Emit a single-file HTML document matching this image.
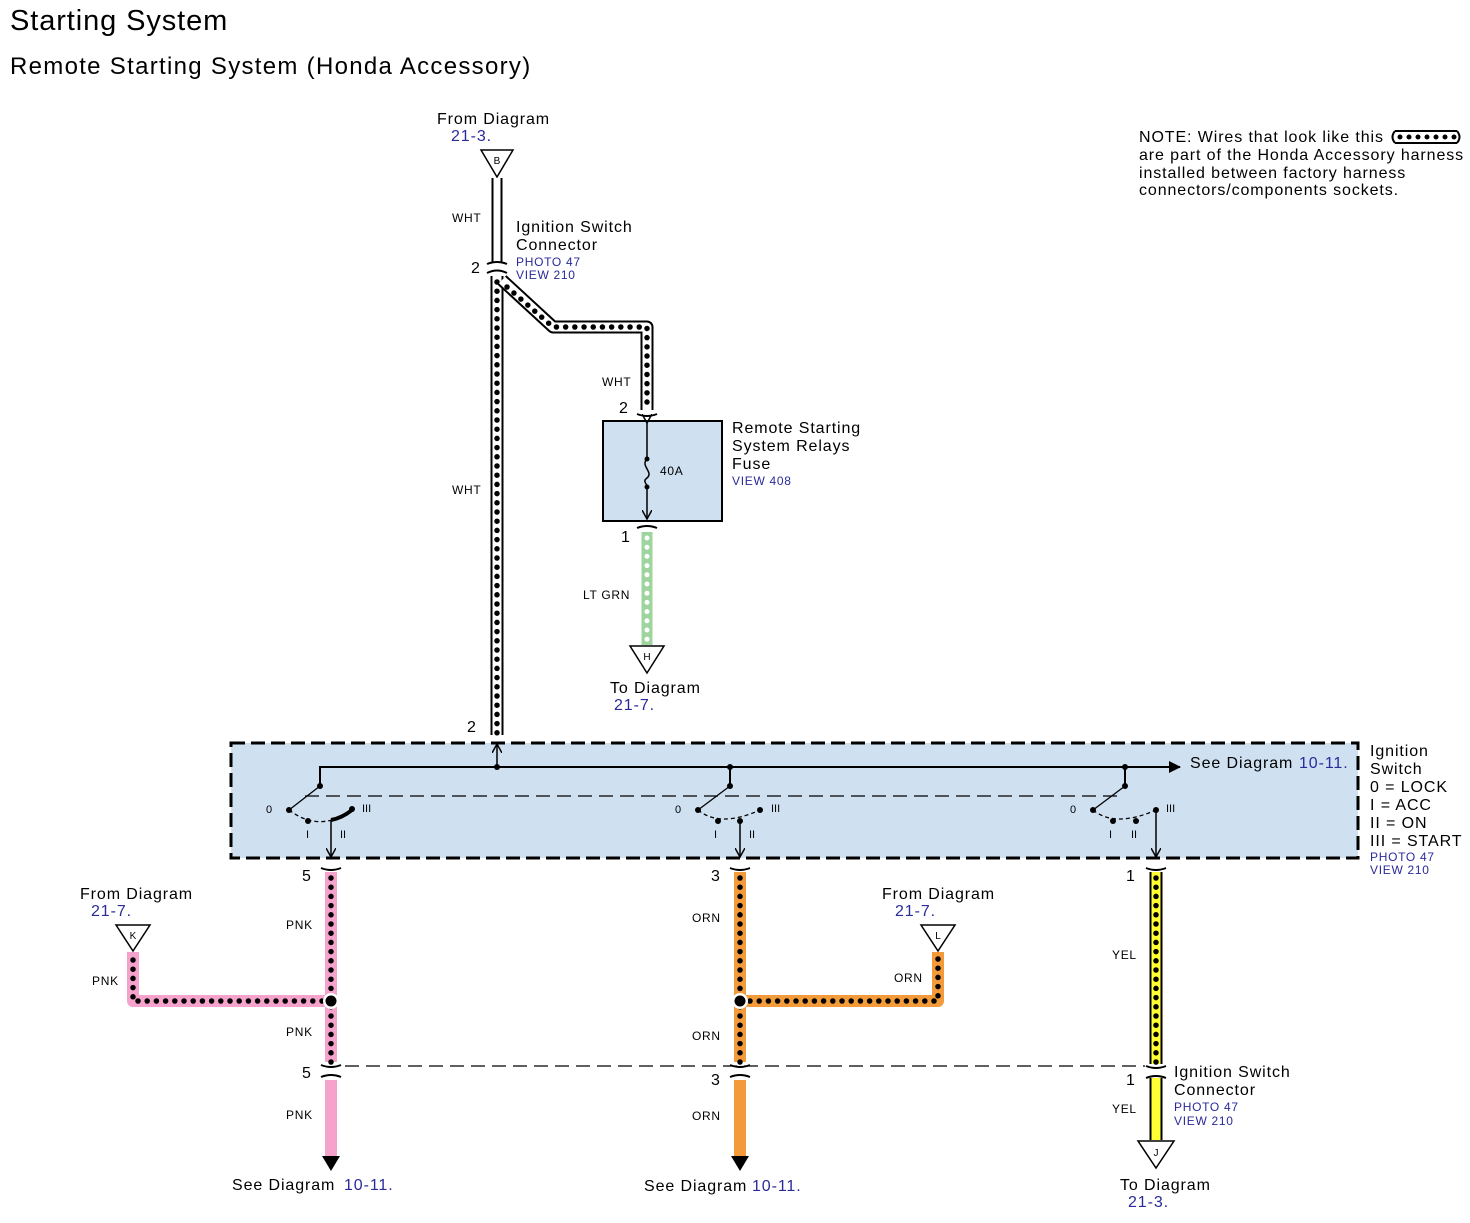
<!DOCTYPE html>
<html><head><meta charset="utf-8"><style>
html,body{margin:0;padding:0;background:#fff;}
svg{display:block;font-family:"Liberation Sans",Arial,sans-serif;}
.b{fill:#2a2a9a}
text[font-size="16"],g[font-size="16"] text{letter-spacing:0.9px}
text[font-size="12"],g[font-size="12"] text{letter-spacing:0.7px}
text[font-size="24"]{letter-spacing:1.3px}
text[font-size="29"]{letter-spacing:0.9px}
</style></head><body>
<svg width="1470" height="1223" viewBox="0 0 1470 1223" xmlns="http://www.w3.org/2000/svg">
<defs>
<marker id="ah" markerWidth="10" markerHeight="10" refX="9" refY="5" orient="auto" markerUnits="userSpaceOnUse"><path d="M0,0 L9,5 L0,10" fill="none" stroke="#000" stroke-width="1.5"/></marker>
<marker id="ahf" markerWidth="12" markerHeight="12" refX="11" refY="6" orient="auto" markerUnits="userSpaceOnUse"><path d="M0,0 L12,6 L0,12 z" fill="#000"/></marker>
</defs>
<text x="10" y="30" font-size="29">Starting System</text>
<text x="10" y="74" font-size="24">Remote Starting System (Honda Accessory)</text>

<!-- NOTE -->
<g font-size="16">
<text x="1139" y="142">NOTE: Wires that look like this</text>
<text x="1139" y="160">are part of the Honda Accessory harness</text>
<text x="1139" y="178">installed between factory harness</text>
<text x="1139" y="195">connectors/components sockets.</text>
</g>
<line x1="1395" y1="131" x2="1457" y2="131" stroke="#000" stroke-width="2"/>
<line x1="1395" y1="143" x2="1457" y2="143" stroke="#000" stroke-width="2"/>
<path d="M1395,131 Q1390,137 1395,143 M1457,131 Q1462,137 1457,143" fill="none" stroke="#000" stroke-width="2"/>
<line x1="1400" y1="137" x2="1456" y2="137" stroke="#000" stroke-width="5" stroke-linecap="round" stroke-dasharray="0 9"/>

<!-- Top from diagram B -->
<text x="437" y="124" font-size="16">From Diagram</text>
<text x="451" y="141" font-size="16" class="b">21-3.</text>
<path d="M481,150 L513,150 L497,177 z" fill="#fff" stroke="#000" stroke-width="1.5"/>
<text x="497" y="164" font-size="10" text-anchor="middle">B</text>
<path d="M497,178 L497,262" stroke="#000" stroke-width="11" fill="none"/>
<path d="M497,178 L497,262" stroke="#fff" stroke-width="7" fill="none"/>
<text x="452" y="222" font-size="12">WHT</text>
<path d="M487,264 Q497,260 507,264" fill="none" stroke="#000" stroke-width="2"/>
<path d="M487,273 Q497,268 507,273" fill="none" stroke="#000" stroke-width="2"/>
<text x="471" y="273" font-size="16">2</text>
<text x="516" y="232" font-size="16">Ignition Switch</text>
<text x="516" y="250" font-size="16">Connector</text>
<text x="516" y="266" font-size="12" class="b">PHOTO 47</text>
<text x="516" y="279" font-size="12" class="b">VIEW 210</text>

<g fill="none" stroke-linejoin="round">
<path d="M497,276 L497,735" stroke="#000" stroke-width="13"/>
<path d="M497,276 L497,735" stroke="#fff" stroke-width="9"/>
<path d="M497,282 L497,735" stroke="#000" stroke-width="5.5" stroke-linecap="round" stroke-dasharray="0 9.2"/>
<path d="M502,280 L553,327 L647,327 L647,410" stroke="#000" stroke-width="13"/>
<path d="M502,280 L553,327 L647,327 L647,410" stroke="#fff" stroke-width="9"/>
<path d="M507,287 L553,327 L647,327 L647,410" stroke="#000" stroke-width="5.5" stroke-linecap="round" stroke-dasharray="0 9.2"/>
</g>
<text x="452" y="494" font-size="12">WHT</text>
<text x="602" y="386" font-size="12">WHT</text>
<text x="619" y="413" font-size="16">2</text>
<path d="M637,414 Q647,418 657,414" fill="none" stroke="#000" stroke-width="2"/>

<!-- Fuse box -->
<rect x="603" y="421" width="119" height="100" fill="#cfe0f1" stroke="#000" stroke-width="2"/>
<line x1="647" y1="423" x2="647" y2="519" stroke="#000" stroke-width="1.5" marker-start="url(#ah)" marker-end="url(#ah)"/>
<rect x="641" y="460" width="12" height="26" fill="#cfe0f1"/>
<path d="M647,459 C640,466 654,472 647,478 C641,482 650,486 647,488" fill="none" stroke="#000" stroke-width="1.5"/>
<circle cx="647" cy="459" r="2.5"/><circle cx="647" cy="487" r="2.5"/>
<text x="660" y="475" font-size="12">40A</text>
<text x="732" y="433" font-size="16">Remote Starting</text>
<text x="732" y="451" font-size="16">System Relays</text>
<text x="732" y="469" font-size="16">Fuse</text>
<text x="732" y="485" font-size="12" class="b">VIEW 408</text>
<text x="621" y="542" font-size="16">1</text>
<path d="M637,528 Q647,524 657,528" fill="none" stroke="#000" stroke-width="2"/>
<path d="M647,532 L647,645" stroke="#9fd49f" stroke-width="11" fill="none"/>
<path d="M647,538 L647,645" stroke="#fff" stroke-width="5" stroke-linecap="round" stroke-dasharray="0 9.2" fill="none"/>
<text x="583" y="599" font-size="12">LT GRN</text>
<path d="M630,646 L664,646 L647,673 z" fill="#fff" stroke="#000" stroke-width="1.5"/>
<text x="647" y="660" font-size="10" text-anchor="middle">H</text>
<text x="610" y="693" font-size="16">To Diagram</text>
<text x="614" y="710" font-size="16" class="b">21-7.</text>

<text x="467" y="732" font-size="16">2</text>

<!-- Ignition switch box -->
<rect x="231" y="743" width="1127" height="115" fill="#cfe0f1" stroke="#000" stroke-width="3" stroke-dasharray="14 6"/>
<line x1="497" y1="767" x2="497" y2="744" stroke="#000" stroke-width="1.5" marker-end="url(#ah)"/>
<path d="M320,785 L320,767 L1180,767" fill="none" stroke="#000" stroke-width="2" marker-end="url(#ahf)"/>
<line x1="730" y1="767" x2="730" y2="785" stroke="#000" stroke-width="2"/>
<line x1="1125" y1="767" x2="1125" y2="785" stroke="#000" stroke-width="2"/>
<circle cx="497" cy="767" r="3"/><circle cx="730" cy="767" r="3"/><circle cx="1125" cy="767" r="3"/>
<line x1="305" y1="796" x2="1120" y2="796" stroke="#000" stroke-width="1.3" stroke-dasharray="14 7"/>
<text x="1190" y="768" font-size="16">See Diagram</text>
<text x="1299" y="768" font-size="16" class="b">10-11.</text>
<g font-size="16">
<text x="1370" y="756">Ignition</text><text x="1370" y="774">Switch</text>
<text x="1370" y="792">0 = LOCK</text><text x="1370" y="810">I = ACC</text>
<text x="1370" y="828">II = ON</text><text x="1370" y="846">III = START</text>
</g>
<text x="1370" y="861" font-size="12" class="b">PHOTO 47</text>
<text x="1370" y="874" font-size="12" class="b">VIEW 210</text>

<g stroke="#000" fill="none" stroke-width="1.3">
<line x1="320" y1="786" x2="289" y2="810"/><path d="M289,810 Q310,826 332,820" stroke-dasharray="4 3"/>
<line x1="730" y1="786" x2="698" y2="810"/><path d="M698,810 Q720,828 760,810" stroke-dasharray="4 3"/>
<line x1="1125" y1="786" x2="1093" y2="810"/><path d="M1093,810 Q1115,828 1156,810" stroke-dasharray="4 3"/>
<path d="M331,820 Q342,818 352,810" stroke-width="4"/>
</g>
<g>
<circle cx="320" cy="786" r="3"/><circle cx="289" cy="810" r="3"/><circle cx="308" cy="821" r="3"/><circle cx="352" cy="809" r="3"/>
<circle cx="730" cy="786" r="3"/><circle cx="698" cy="810" r="3"/><circle cx="718" cy="821" r="3"/><circle cx="740" cy="821" r="3"/><circle cx="760" cy="810" r="3"/>
<circle cx="1125" cy="786" r="3"/><circle cx="1093" cy="810" r="3"/><circle cx="1113" cy="821" r="3"/><circle cx="1136" cy="821" r="3"/><circle cx="1156" cy="810" r="3"/>
</g>
<g font-size="11">
<text x="266" y="813">0</text><text x="306" y="838">I</text><text x="340" y="838">II</text><text x="362" y="812">III</text>
<text x="675" y="813">0</text><text x="714" y="838">I</text><text x="749" y="838">II</text><text x="771" y="812">III</text>
<text x="1070" y="813">0</text><text x="1109" y="838">I</text><text x="1131" y="838">II</text><text x="1166" y="812">III</text>
</g>
<line x1="331" y1="820" x2="331" y2="857" stroke="#000" stroke-width="1.5" marker-end="url(#ah)"/>
<line x1="740" y1="821" x2="740" y2="857" stroke="#000" stroke-width="1.5" marker-end="url(#ah)"/>
<line x1="1156" y1="810" x2="1156" y2="857" stroke="#000" stroke-width="1.5" marker-end="url(#ah)"/>

<g fill="none" stroke="#000" stroke-width="2">
<path d="M321,868 Q331,872 341,868"/><path d="M730,868 Q740,872 750,868"/><path d="M1146,868 Q1156,872 1166,868"/>
</g>
<text x="302" y="881" font-size="16">5</text>
<text x="711" y="881" font-size="16">3</text>
<text x="1126" y="881" font-size="16">1</text>

<g fill="none" stroke-linejoin="round" stroke-linecap="butt">
<path d="M331,872 L331,1062" stroke="#f5a3cc" stroke-width="12"/>
<path d="M331,1001 L133,1001 L133,952" stroke="#f5a3cc" stroke-width="12"/>
<path d="M331,878 L331,1062" stroke="#000" stroke-width="5.5" stroke-linecap="round" stroke-dasharray="0 9.2"/>
<path d="M322,1001 L133,1001 L133,955" stroke="#000" stroke-width="5.5" stroke-linecap="round" stroke-dasharray="0 9.2"/>
<path d="M331,1080 L331,1158" stroke="#f5a3cc" stroke-width="12"/>
<path d="M740,872 L740,1062" stroke="#f39a3b" stroke-width="12"/>
<path d="M740,1001 L938,1001 L938,952" stroke="#f39a3b" stroke-width="12"/>
<path d="M740,878 L740,1062" stroke="#000" stroke-width="5.5" stroke-linecap="round" stroke-dasharray="0 9.2"/>
<path d="M750,1001 L938,1001 L938,955" stroke="#000" stroke-width="5.5" stroke-linecap="round" stroke-dasharray="0 9.2"/>
<path d="M740,1080 L740,1158" stroke="#f39a3b" stroke-width="12"/>
<path d="M1156,872 L1156,1064" stroke="#000" stroke-width="13"/>
<path d="M1156,872 L1156,1064" stroke="#ffff33" stroke-width="9"/>
<path d="M1156,878 L1156,1064" stroke="#000" stroke-width="5.5" stroke-linecap="round" stroke-dasharray="0 9.2"/>
<path d="M1156,1078 L1156,1140" stroke="#000" stroke-width="13"/>
<path d="M1156,1078 L1156,1140" stroke="#ffff33" stroke-width="9"/>
</g>
<circle cx="331" cy="1001" r="8" fill="#fff"/><circle cx="331" cy="1001" r="5.5"/>
<circle cx="740" cy="1001" r="8" fill="#fff"/><circle cx="740" cy="1001" r="5.5"/>
<path d="M322,1156 L340,1156 L331,1171 z"/>
<path d="M731,1156 L749,1156 L740,1171 z"/>

<line x1="345" y1="1066" x2="1145" y2="1066" stroke="#000" stroke-width="1.3" stroke-dasharray="14 7"/>
<g fill="none" stroke="#000" stroke-width="2">
<path d="M321,1065 Q331,1069 341,1065"/><path d="M321,1077 Q331,1073 341,1077"/>
<path d="M730,1065 Q740,1069 750,1065"/><path d="M730,1077 Q740,1073 750,1077"/>
<path d="M1146,1066 Q1156,1070 1166,1066"/><path d="M1146,1078 Q1156,1074 1166,1078"/>
</g>
<text x="302" y="1078" font-size="16">5</text>
<text x="711" y="1085" font-size="16">3</text>
<text x="1126" y="1085" font-size="16">1</text>

<g font-size="12">
<text x="286" y="929">PNK</text><text x="92" y="985">PNK</text><text x="286" y="1036">PNK</text><text x="286" y="1119">PNK</text>
<text x="692" y="922">ORN</text><text x="894" y="982">ORN</text><text x="692" y="1040">ORN</text><text x="692" y="1120">ORN</text>
<text x="1112" y="959">YEL</text><text x="1112" y="1113">YEL</text>
</g>

<path d="M116,925 L150,925 L133,951 z" fill="#fff" stroke="#000" stroke-width="1.5"/>
<text x="133" y="939" font-size="10" text-anchor="middle">K</text>
<text x="80" y="899" font-size="16">From Diagram</text>
<text x="91" y="916" font-size="16" class="b">21-7.</text>
<path d="M921,925 L955,925 L938,951 z" fill="#fff" stroke="#000" stroke-width="1.5"/>
<text x="938" y="939" font-size="10" text-anchor="middle">L</text>
<text x="882" y="899" font-size="16">From Diagram</text>
<text x="895" y="916" font-size="16" class="b">21-7.</text>
<path d="M1138,1141 L1174,1141 L1156,1168 z" fill="#fff" stroke="#000" stroke-width="1.5"/>
<text x="1156" y="1156" font-size="10" text-anchor="middle">J</text>

<text x="1174" y="1077" font-size="16">Ignition Switch</text>
<text x="1174" y="1095" font-size="16">Connector</text>
<text x="1174" y="1111" font-size="12" class="b">PHOTO 47</text>
<text x="1174" y="1125" font-size="12" class="b">VIEW 210</text>
<text x="1120" y="1190" font-size="16">To Diagram</text>
<text x="1128" y="1207" font-size="16" class="b">21-3.</text>

<text x="232" y="1190" font-size="16">See Diagram</text>
<text x="344" y="1190" font-size="16" class="b">10-11.</text>
<text x="644" y="1191" font-size="16">See Diagram</text>
<text x="752" y="1191" font-size="16" class="b">10-11.</text>
</svg>
</body></html>
